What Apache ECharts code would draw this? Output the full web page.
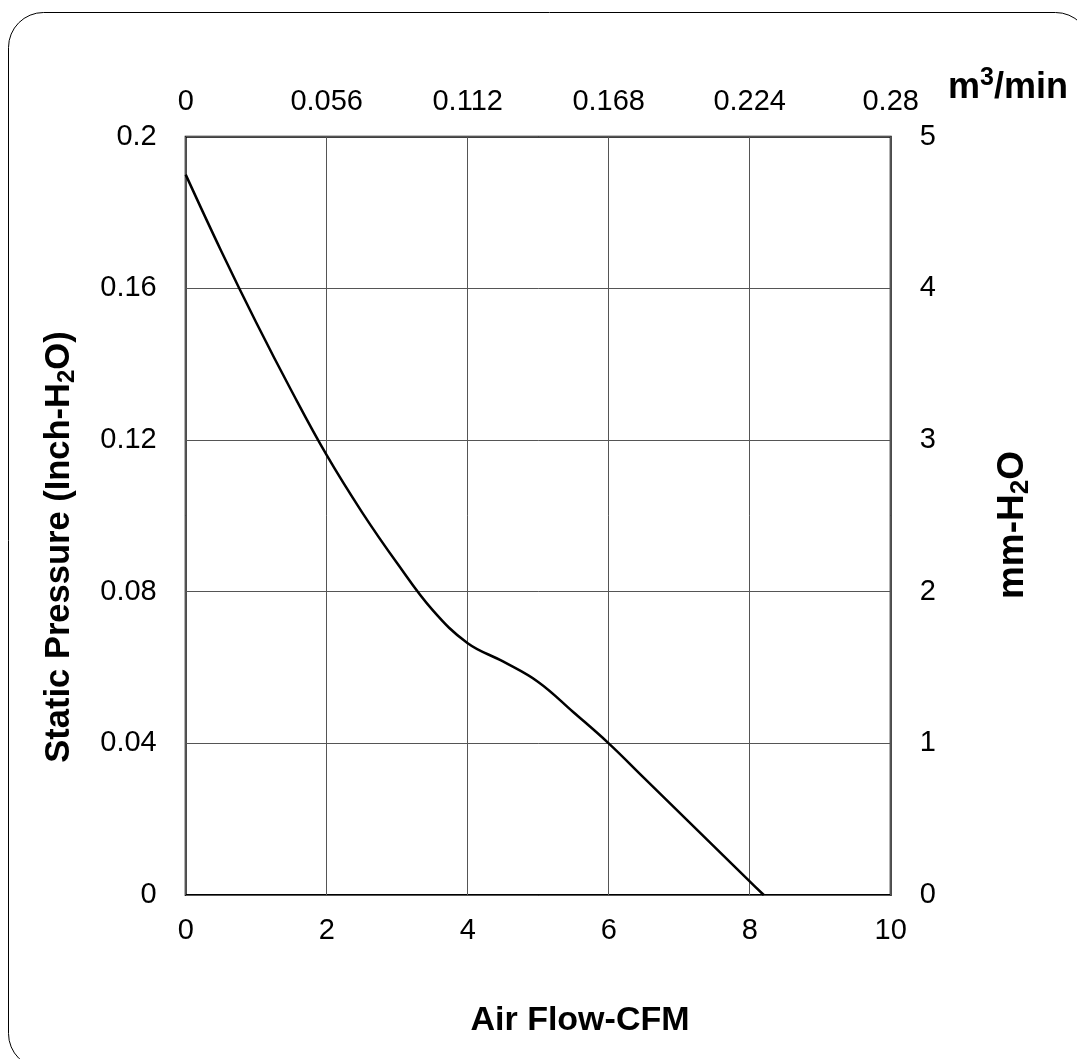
<!DOCTYPE html>
<html>
<head>
<meta charset="utf-8">
<script src="https://cdn.jsdelivr.net/npm/echarts@6/dist/echarts.min.js"></script>
<style>
html,body{margin:0;padding:0;background:#fff;}
#c{width:1077px;height:1059px;}
</style>
</head>
<body>
<div id="c"></div>
<script>
// Air flow (CFM) and static pressure (inch-H2O)
var airFlowCFM = [0, 0.5, 1, 1.5, 2, 2.5, 3, 3.5, 4, 4.5, 5, 5.5, 6, 6.5, 7, 7.5, 8, 8.2];
var pressureInch = [0.190, 0.170, 0.151, 0.133, 0.116, 0.101, 0.0875, 0.0752, 0.0664, 0.0616, 0.0562, 0.0482, 0.0400, 0.0309, 0.0218, 0.0127, 0.0036, 0];
// Secondary axis tick values
var topTicksM3 = [0, 0.056, 0.112, 0.168, 0.224, 0.28];
var rightTicksMM = [0, 1, 2, 3, 4, 5];

var chart = echarts.init(document.getElementById('c'));
var data = airFlowCFM.map(function (x, i) { return [x, pressureInch[i]]; });
var FONT = 'Liberation Sans, Arial, sans-serif';
function lbl(extra) {
  return Object.assign({color: '#000', fontSize: 29, fontFamily: FONT}, extra);
}
function titleRich(size, sub, supRaise) {
  return {
    a: {fontSize: size, fontWeight: 'bold', fontFamily: FONT, fill: '#000'},
    s: {fontSize: sub, fontWeight: 'bold', fontFamily: FONT, fill: '#000', padding: [16, 0, 0, 0]},
    u: {fontSize: sub, fontWeight: 'bold', fontFamily: FONT, fill: '#000', padding: [0, 0, supRaise || 22, 0]}
  };
}

chart.setOption({
  animation: false,
  backgroundColor: '#fff',
  grid: {left: 185.7, right: 186.3, top: 136.7, bottom: 164, show: true, borderColor: '#000', borderWidth: 2, backgroundColor: 'transparent'},
  xAxis: [
    {type: 'value', min: 0, max: 10, interval: 2, position: 'bottom',
     axisLine: {show: false}, axisTick: {show: false},
     splitLine: {show: true, lineStyle: {color: '#555', width: 1}},
     axisLabel: lbl({margin: 21})},
    {type: 'value', min: topTicksM3[0], max: topTicksM3[topTicksM3.length - 1], interval: topTicksM3[1], position: 'top',
     axisLine: {show: false}, axisTick: {show: false}, splitLine: {show: false},
     axisLabel: lbl({margin: 20, formatter: function (v) { return String(+v.toFixed(3)); }})}
  ],
  yAxis: [
    {type: 'value', min: 0, max: 0.2, interval: 0.04, position: 'left',
     axisLine: {show: false}, axisTick: {show: false},
     splitLine: {show: true, lineStyle: {color: '#555', width: 1}},
     axisLabel: lbl({margin: 29})},
    {type: 'value', min: rightTicksMM[0], max: rightTicksMM[rightTicksMM.length - 1], interval: rightTicksMM[1] - rightTicksMM[0], position: 'right',
     axisLine: {show: false}, axisTick: {show: false}, splitLine: {show: false},
     axisLabel: lbl({margin: 29})}
  ],
  series: [{
    type: 'line', data: data, smooth: 0.4, symbol: 'none',
    xAxisIndex: 0, yAxisIndex: 0,
    lineStyle: {color: '#000', width: 2.5}
  }],
  graphic: [
    {type: 'rect', shape: {x: 8.5, y: 12.5, width: 1082, height: 1056, r: 35},
     style: {fill: 'none', stroke: '#000', lineWidth: 1}, silent: true, z: -1},
    {type: 'text', x: 580, y: 1021,
     style: {text: 'Air Flow-CFM', fontSize: 34, fontWeight: 'bold', fontFamily: FONT, fill: '#000', align: 'center', verticalAlign: 'middle'}},
    {type: 'text', x: 59, y: 547, rotation: Math.PI / 2,
     style: {text: '{a|Static Pressure (Inch-H}{s|2}{a|O)}', align: 'center', verticalAlign: 'middle', rich: titleRich(34.5, 24)}},
    {type: 'text', x: 1013, y: 525, rotation: Math.PI / 2,
     style: {text: '{a|mm-H}{s|2}{a|O}', align: 'center', verticalAlign: 'middle', rich: titleRich(37, 26)}},
    {type: 'text', x: 948, y: 88,
     style: {text: '{a|m}{u|3}{a|/min}', align: 'left', verticalAlign: 'middle', rich: titleRich(36, 25, 20)}}
  ]
});
</script>
</body>
</html>
